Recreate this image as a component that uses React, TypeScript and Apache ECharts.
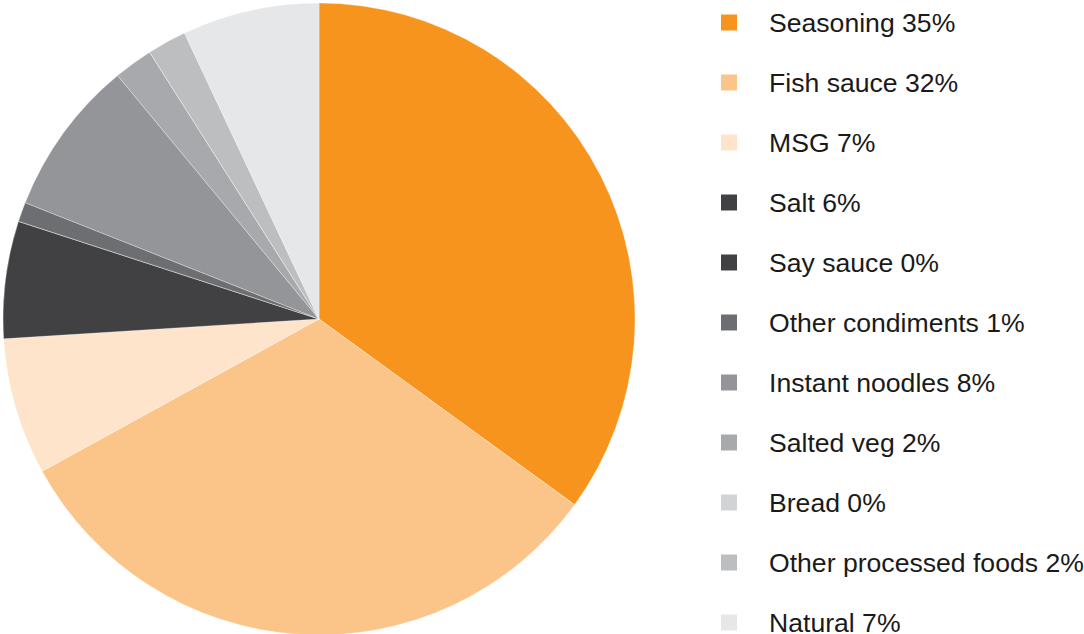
import React, { useEffect, useRef } from "react";
import * as echarts from "echarts";

const categories = [
  "Seasoning",
  "Fish sauce",
  "MSG",
  "Salt",
  "Say sauce",
  "Other condiments",
  "Instant noodles",
  "Salted veg",
  "Bread",
  "Other processed foods",
  "Natural",
];
const shares = [35, 32, 7, 6, 0, 1, 8, 2, 0, 2, 7];
const colors = [
  "#f7941d",
  "#fbc589",
  "#fee4ca",
  "#414042",
  "#414042",
  "#6d6e71",
  "#939598",
  "#a7a9ac",
  "#d1d3d4",
  "#bcbec0",
  "#e6e7e8",
];

export default function App() {
  const ref = useRef<HTMLDivElement>(null);
  useEffect(() => {
    if (!ref.current) return;
    const chart = echarts.init(ref.current, undefined, { renderer: "svg" });
    const data = categories.map((name, i) => ({
      name,
      value: shares[i],
      itemStyle: { color: colors[i] },
    }));
    chart.setOption({
      animation: false,
      color: colors,
      legend: {
        orient: "vertical",
        left: 721,
        top: 9,
        height: 660,
        padding: 0,
        itemWidth: 16,
        itemHeight: 16,
        itemGap: 33,
        icon: "rect",
        selectedMode: false,
        itemStyle: { borderWidth: 0 },
        formatter: (name: string) => {
          const i = categories.indexOf(name);
          return `${name} ${shares[i]}%`;
        },
        textStyle: {
          fontFamily: "Liberation Sans, Arial, sans-serif",
          fontSize: 26.6,
          lineHeight: 26,
          color: "#1a1a1a",
          padding: [0, 0, 0, 27],
        },
        data: categories,
      },
      series: [
        {
          type: "pie",
          center: [319, 319],
          radius: [0, 316],
          startAngle: 90,
          clockwise: true,
          label: { show: false },
          labelLine: { show: false },
          emphasis: { disabled: true },
          itemStyle: { borderColor: "rgba(255,255,255,0.6)", borderWidth: 0.5 },
          data,
        },
      ],
    });
    return () => chart.dispose();
  }, []);
  return (
    <div
      ref={ref}
      style={{ position: "fixed", left: 0, top: 0, width: 1084, height: 634, background: "#fff" }}
    />
  );
}
